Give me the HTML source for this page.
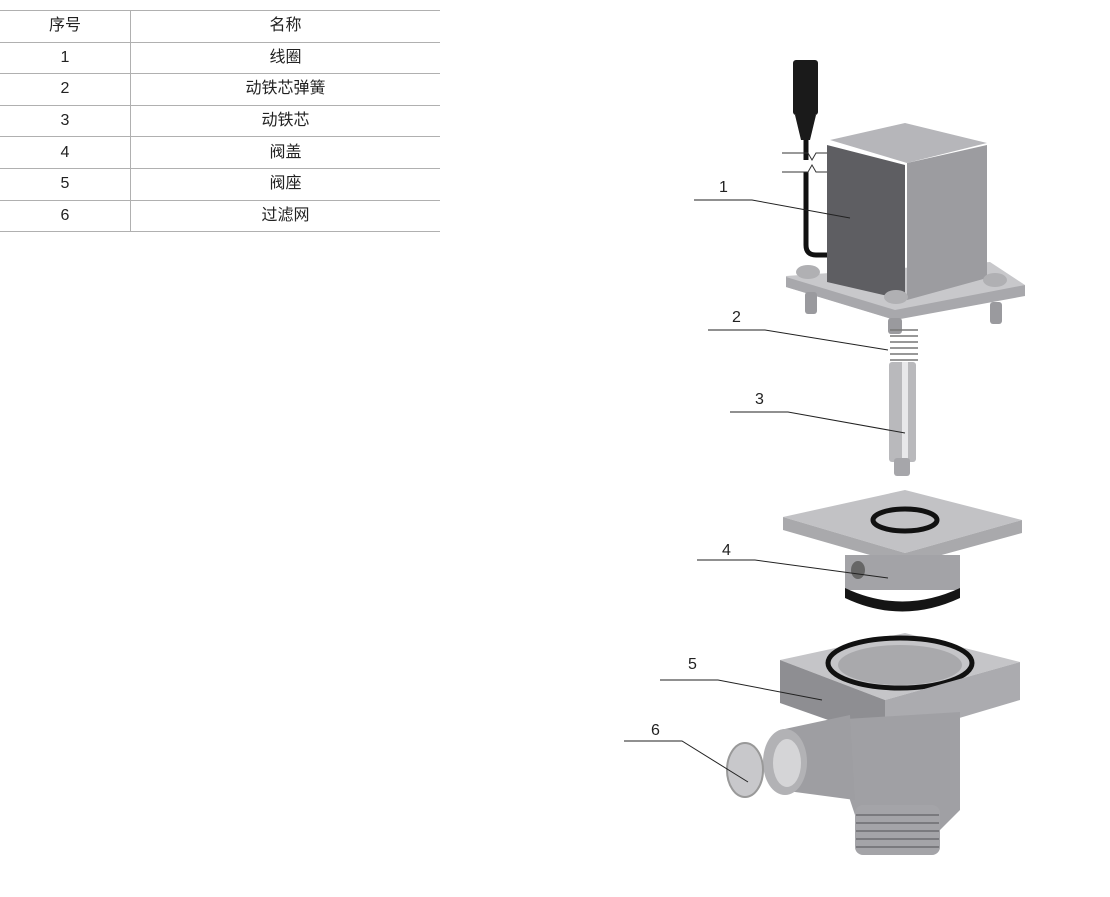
<!DOCTYPE html>
<html><head><meta charset="utf-8"><style>
body{margin:0;background:#fff;width:1110px;height:897px;overflow:hidden;font-family:"Liberation Sans","Noto Sans CJK SC",sans-serif}
table{position:absolute;left:0;top:10px;width:440px;border-collapse:collapse;font-size:16px;color:#222}
td{height:30.6px;padding:0;text-align:center;vertical-align:middle;line-height:16px;border-top:1px solid #b0b0b0;border-bottom:1px solid #b0b0b0}
td:first-child{width:130px;border-right:1px solid #b0b0b0}
svg{position:absolute;left:0;top:0}
</style></head><body>
<table>
<tr><td>序号</td><td>名称</td></tr>
<tr><td>1</td><td>线圈</td></tr>
<tr><td>2</td><td>动铁芯弹簧</td></tr>
<tr><td>3</td><td>动铁芯</td></tr>
<tr><td>4</td><td>阀盖</td></tr>
<tr><td>5</td><td>阀座</td></tr>
<tr><td>6</td><td>过滤网</td></tr>
</table>
<svg width="1110" height="897" viewBox="0 0 1110 897">
<rect x="793" y="60" width="25" height="55" rx="3" fill="#1a1a1a"/>
<polygon points="795,115 816,115 810,140 801,140" fill="#1a1a1a"/>
<path d="M806,140 V160 M806,172 V245 Q806,255 816,255 H828" stroke="#111" stroke-width="5" fill="none"/>
<path d="M782,153 H808 L812,160 L816,153 H828 M782,172 H808 L812,165 L816,172 H828" stroke="#333" stroke-width="1" fill="none"/>
<polygon points="786,276 990,262 1025,285 895,320 786,287" fill="#c8c8cb"/>
<polygon points="786,287 895,320 1025,296 1025,285 895,310 786,277" fill="#a8a8ac"/>
<rect x="805" y="292" width="12" height="22" rx="3" fill="#9a9a9e"/>
<rect x="990" y="302" width="12" height="22" rx="3" fill="#9a9a9e"/>
<rect x="888" y="318" width="14" height="16" rx="3" fill="#9a9a9e"/>
<polygon points="830,140 905,123 987,143 907,163" fill="#b6b6ba"/>
<polygon points="827,145 905,165 905,300 827,282" fill="#5e5e62"/>
<polygon points="907,163 987,145 987,278 907,300" fill="#9c9ca0"/>
<ellipse cx="808" cy="272" rx="12" ry="7" fill="#b0b0b3"/>
<ellipse cx="995" cy="280" rx="12" ry="7" fill="#b0b0b3"/>
<ellipse cx="896" cy="297" rx="12" ry="7" fill="#b0b0b3"/>
<g stroke="#777" stroke-width="1.5" fill="none">
<path d="M890,330 h28 M890,336 h28 M890,342 h28 M890,348 h28 M890,354 h28 M890,360 h28"/></g>
<rect x="889" y="362" width="27" height="100" rx="3" fill="#b9b9bc"/>
<rect x="902" y="362" width="6" height="100" fill="#e8e8ea"/>
<rect x="894" y="458" width="16" height="18" rx="3" fill="#a6a6aa"/>
<polygon points="783,517 905,490 1022,520 905,553" fill="#c2c2c5"/>
<polygon points="783,517 905,553 1022,520 1022,533 905,565 783,530" fill="#a9a9ac"/>
<ellipse cx="905" cy="520" rx="32" ry="11" fill="none" stroke="#111" stroke-width="5"/>
<rect x="845" y="555" width="115" height="35" fill="#a3a3a7"/>
<path d="M845,588 Q902,615 960,588 V598 Q902,625 845,598Z" fill="#151515"/>
<ellipse cx="858" cy="570" rx="7" ry="9" fill="#666"/>
<polygon points="780,660 905,633 1020,662 885,700" fill="#c5c5c8"/>
<ellipse cx="900" cy="663" rx="72" ry="25" fill="none" stroke="#111" stroke-width="5"/>
<ellipse cx="900" cy="665" rx="62" ry="20" fill="#a9a9ac"/>
<polygon points="780,660 885,700 885,740 780,703" fill="#8e8e92"/>
<polygon points="885,700 1020,662 1020,700 885,740" fill="#ababaf"/>
<polygon points="830,720 960,712 960,810 940,830 860,830 850,800" fill="#a0a0a4"/>
<rect x="855" y="805" width="85" height="50" rx="8" fill="#a4a4a8"/>
<g stroke="#7a7a7e" stroke-width="2"><path d="M856,815h83M856,823h83M856,831h83M856,839h83M856,847h83"/></g>
<polygon points="780,730 850,715 855,800 780,790" fill="#9e9ea2"/>
<ellipse cx="785" cy="762" rx="22" ry="33" fill="#b2b2b5"/>
<ellipse cx="787" cy="763" rx="14" ry="24" fill="#d5d5d7"/>
<ellipse cx="745" cy="770" rx="18" ry="27" fill="#c8c8cb" stroke="#999" stroke-width="2"/>
<g stroke="#222" stroke-width="1" fill="none">
<path d="M694,200 H752 L850,218"/>
<path d="M708,330 H765 L888,350"/>
<path d="M730,412 H788 L905,433"/>
<path d="M697,560 H755 L888,578"/>
<path d="M660,680 H718 L822,700"/>
<path d="M624,741 H682 L748,782"/>
</g>
<g font-family="Liberation Sans,sans-serif" font-size="16" fill="#222">
<text x="719" y="192">1</text><text x="732" y="322">2</text><text x="755" y="404">3</text>
<text x="722" y="555">4</text><text x="688" y="669">5</text><text x="651" y="735">6</text>
</g>
</svg>
</body></html>
